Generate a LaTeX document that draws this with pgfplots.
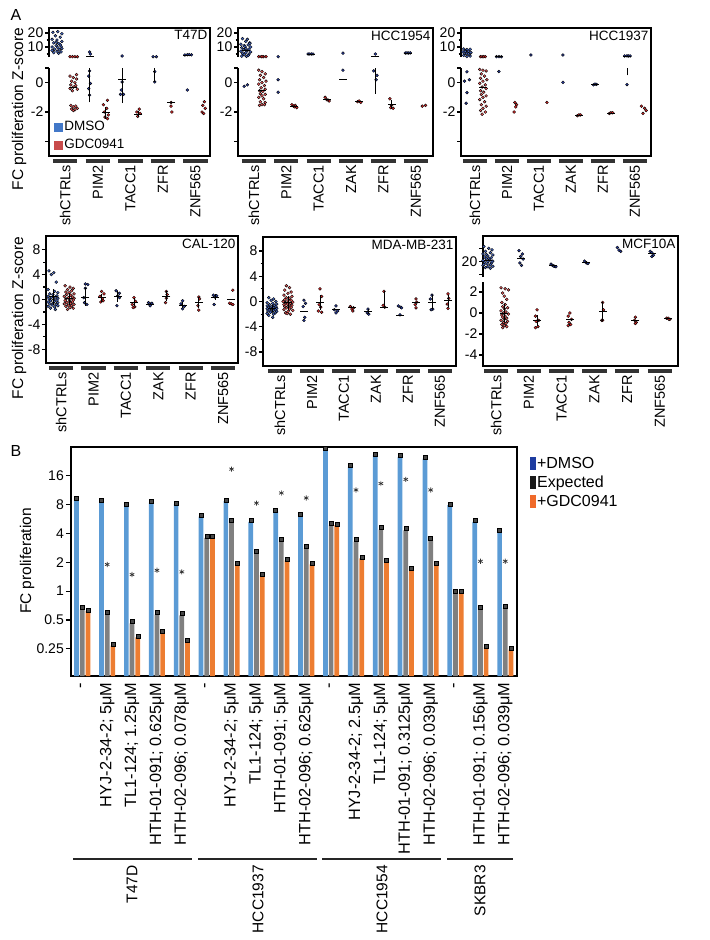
\documentclass[border=0pt]{standalone}
\usepackage{pgfplots}
\pgfplotsset{compat=1.18}
\usepackage{pgfplotstable}
\usepackage{fontspec}
\setmainfont{Liberation Sans}
\usetikzlibrary{calc}

\definecolor{dmso}{RGB}{40,60,160}
\definecolor{dmsoL}{RGB}{70,105,200}
\definecolor{gdc}{RGB}{220,40,40}
\definecolor{gdcL}{RGB}{240,90,90}
\definecolor{legblue}{RGB}{66,120,200}
\definecolor{legred}{RGB}{200,75,75}
\definecolor{bblue}{RGB}{91,155,213}
\definecolor{bgray}{RGB}{128,128,128}
\definecolor{borange}{RGB}{237,125,49}
\definecolor{ldblue}{RGB}{30,60,160}
\definecolor{lorange}{RGB}{240,106,42}
\definecolor{capgray}{RGB}{70,70,70}

\newcommand{\fs}[1]{\fontsize{#1bp}{#1bp}\selectfont}
\newcommand{\catA}[5]{%
  \draw[line width=4bp, black!80] ($(axis cs:#1,#4)+(0bp,-5bp)$) -- ($(axis cs:#2,#4)+(0bp,-5bp)$);
  \node[rotate=90, anchor=east, inner sep=0pt, font=\fs{14.5}] at ($(axis cs:#3,#4)+(0bp,-9bp)$) {#5};}

\tikzset{frame/.style={line width=1.6bp, line cap=rect}, ttl/.style={anchor=north east, inner sep=2.5bp, font=\fs{13.5}}}

\pgfplotsset{
  /pgf/number format/assume math mode=true,
  pt/.style={only marks, mark=*, mark size=1.45bp, mark options={draw=none, fill=#1}, forget plot},
  mbar/.style={only marks, mark=-, mark size=4bp, mark options={line width=0.9bp, draw=black}, forget plot,
     error bars/y dir=both, error bars/y explicit, error bars/error bar style={line width=0.8bp, black}, error bars/error mark=none},
  vl/.style={black, line width=0.8bp, forget plot},
  cap/.style={only marks, mark=square*, mark size=2bp, mark options={draw=none, fill=capgray}, forget plot},
  aup/.style={scale only axis, anchor=north west, axis x line=none, axis y line=left,
     axis line style={-, line width=1.6bp}, tick align=outside, major tick length=4bp, minor tick length=2.5bp,
     tick style={line width=1.2bp, black}, yticklabel style={font=\fs{14}, inner sep=1.5bp}, clip mode=individual},
  abox/.style={scale only axis, anchor=north west, xtick=\empty, ytick pos=left, tick align=outside,
     major tick length=4bp, minor tick length=2.5bp, tick style={line width=1.2bp, black},
     axis line style={line width=1.6bp}, yticklabel style={font=\fs{14}, inner sep=1.5bp}, clip mode=individual,
     ymin=-10.2, ymax=10.2, ytick={-8,-4,0,4,8}, minor ytick={-6,-2,2,6}},
}

\pgfplotstableread{
idx dmso exp gdc
0 9.0 0.64 0.62
1 8.6 0.58 0.27
2 7.9 0.46 0.33
3 8.4 0.57 0.37
4 8.1 0.56 0.30
5 6.0 3.6 3.6
6 8.7 5.3 1.9
7 5.3 2.5 1.47
8 6.8 3.3 2.1
9 6.1 2.8 1.9
10 30 4.9 4.9
11 19.8 3.3 2.2
12 26.3 4.4 2.04
13 25.2 4.3 1.68
14 24.2 3.4 1.89
15 7.9 0.96 0.96
16 5.3 0.65 0.26
17 4.2 0.67 0.245
}\barsB

\begin{document}
\begin{tikzpicture}
\useasboundingbox (0,0) rectangle (710bp,-940bp);
\node[font=\fs{16}] at (16bp,-15bp) {A};
\node[font=\fs{16}] at (16bp,-451bp) {B};
\node[rotate=90,font=\fs{15.5}] at (19bp,-109bp) {FC proliferation Z-score};
\node[rotate=90,font=\fs{15.5}] at (19bp,-318bp) {FC proliferation Z-score};
\node[rotate=90,font=\fs{15.5}] at (27bp,-561bp) {FC proliferation};

% ================= T47D =================
\begin{axis}[aup, at={(49bp,-28bp)}, width=161bp, height=29bp, xmin=-0.49, xmax=9.39, ymin=2.86, ymax=23.6, ytick={10,20}, minor ytick={5,15}]
\addplot[pt=dmsoL] coordinates {(-0.25,20.5) (0.05,21) (0.3,19.5) (-0.1,18) (0.2,17) (-0.3,15.5) (0,15) (0.3,14) (-0.2,13) (0.1,12.5) (-0.05,11) (0.25,10.5) (-0.3,10) (0.05,9.5) (0.3,9) (-0.15,8.5) (0.15,8) (-0.3,7.5) (0,7) (0.25,6.5) (-0.2,6) (0.1,5.5) (-0.05,13.5) (0.2,11.5)};
\addplot[pt=dmso] coordinates {(2,6.4) (2.05,5.0) (4,3.6) (5.9,3.1) (6.1,3.1) (7.85,4.3) (8.0,4.5) (8.12,4.6) (8.25,4.4)};
\addplot[pt=gdc] coordinates {(0.8,3.1) (0.95,3.1) (1.1,3.1) (1.25,3.1)};
\addplot[mbar] coordinates {(2,3.0) +- (0,0) (8,4.3) +- (0,0)};
\draw[frame] (rel axis cs:0,1) -- (rel axis cs:1,1) -- (rel axis cs:1,-0.38);
\node[ttl] at (rel axis cs:1,1) {T47D};
\end{axis}
\begin{axis}[aup, at={(49bp,-68bp)}, width=161bp, height=88bp, xmin=-0.49, xmax=9.39, ymin=-5, ymax=1, ytick={-4,-2,0,1}, yticklabels={,-2,0,},
  legend style={at={(0.03,0.04)}, anchor=south west, draw=none, fill=none, inner sep=0pt, font=\fs{13.5}, row sep=3bp}, legend cell align=left]
\addlegendimage{legend image code/.code={\fill[legblue] (0bp,-4bp) rectangle (8bp,4bp);}}
\addlegendentry{DMSO}
\addlegendimage{legend image code/.code={\fill[legred] (0bp,-4bp) rectangle (8bp,4bp);}}
\addlegendentry{GDC0941}
\addplot[pt=gdcL] coordinates {(0.8,0.45) (1.0,0.35) (1.2,0.25) (0.9,0.1) (1.1,0.0) (0.85,-0.15) (1.15,-0.2) (1.0,-0.3) (0.8,-0.4) (1.25,-0.45) (0.95,-0.55) (1.2,0.55) (0.85,-1.55) (1.0,-1.65) (1.15,-1.6) (0.9,-1.8) (1.1,-1.85) (1.0,-1.9) (1.25,-1.75)};
\addplot[pt=gdc] coordinates {(3.1,-1.2) (2.85,-1.5) (3.05,-1.75) (2.9,-2.0) (3.15,-2.2) (2.95,-2.35) (3.1,-2.45) (5.05,-1.8) (4.9,-2.0) (5.1,-2.1) (4.95,-2.3) (7,-1.35) (7.0,-1.6) (7.05,-2.0) (9.05,-1.3) (8.95,-1.55) (9.1,-1.75) (8.9,-2.0) (9.0,-2.1)};
\addplot[pt=dmso] coordinates {(2,0.8) (1.95,0.45) (2.05,-0.05) (1.95,-0.4) (2.0,-0.85) (4,0.05) (3.95,-0.5) (3.9,-0.8) (4.08,-0.8) (6,0.75) (6,0.05) (8,-0.5)};
\addplot[vl] coordinates {(2,-1.35) (2,1)};
\addplot[vl] coordinates {(4,-1.4) (4,1)};
\addplot[vl] coordinates {(6,0.05) (6,1)};
\addplot[mbar] coordinates {(1,-0.36) +- (0,0) (3,-2.05) +- (0,0.4) (4,0.2) +- (0,0) (5,-2.15) +- (0,0.2) (7,-1.35) +- (0,0)};
\draw[frame] (rel axis cs:0,0) -- (rel axis cs:1,0) -- (rel axis cs:1,1);
\catA{-0.25}{1.25}{0.5}{-5}{shCTRLs}
\catA{1.75}{3.25}{2.5}{-5}{PIM2}
\catA{3.75}{5.25}{4.5}{-5}{TACC1}
\catA{5.75}{7.25}{6.5}{-5}{ZFR}
\catA{7.75}{9.25}{8.5}{-5}{ZNF565}
\end{axis}

% ================= HCC1954 =================
\begin{axis}[aup, at={(238bp,-28bp)}, width=195bp, height=29bp, xmin=-0.48, xmax=11.56, ymin=2.86, ymax=23.6, ytick={10,20}, minor ytick={5,15}]
\addplot[pt=dmsoL] coordinates {(-0.2,16) (0.1,15.5) (0,14) (0.25,13) (-0.3,12) (0.15,11.5) (-0.1,11) (0.3,10) (-0.25,9.5) (0,9) (0.2,8.5) (-0.15,8) (0.1,7.5) (-0.3,7) (0.3,6.5) (0,6) (-0.2,5.5) (0.2,5) (-0.1,4.5) (0.15,4) (-0.25,3.5) (0.05,3.3) (0.25,12.5) (-0.05,10.5)};
\addplot[pt=gdc] coordinates {(0.8,3.1) (0.95,3.1) (1.1,3.1) (1.25,3.1) (1.0,3.1)};
\addplot[pt=dmso] coordinates {(2,3.1) (3.85,5) (3.95,5) (4.05,5) (4.15,5) (6,5.6) (8.0,5.0) (9.85,5.7) (9.95,5.8) (10.05,5.7) (10.15,5.8)};
\addplot[mbar] coordinates {(0,7.4) +- (0,0) (4,5) +- (0,0) (8,3.0) +- (0,0) (10,5.7) +- (0,0)};
\draw[frame] (rel axis cs:0,1) -- (rel axis cs:1,1) -- (rel axis cs:1,-0.38);
\node[ttl] at (rel axis cs:1,1) {HCC1954};
\end{axis}
\begin{axis}[aup, at={(238bp,-68bp)}, width=195bp, height=88bp, xmin=-0.48, xmax=11.56, ymin=-5, ymax=1, ytick={-4,-2,0,1}, yticklabels={,-2,0,}]
\addplot[pt=dmso] coordinates {(-0.1,-0.25) (0.1,-0.15) (2,0.2) (2,-0.65) (6,0.85) (7.9,0.8) (8.1,0.5) (8.05,0.2)};
\addplot[pt=gdcL] coordinates {(0.8,0.85) (1.0,0.75) (1.2,0.6) (0.9,0.5) (1.1,0.35) (0.85,0.2) (1.25,0.1) (1.0,0.0) (0.8,-0.1) (1.15,-0.2) (0.95,-0.35) (1.2,-0.45) (0.85,-0.55) (1.05,-0.6) (0.9,-0.75) (1.2,-0.8) (1.0,-0.9) (0.8,-1.0) (1.1,-1.1) (0.9,-1.3) (1.2,-1.35) (1.0,-1.5) (0.85,-1.55) (1.15,-1.5)};
\addplot[pt=gdc] coordinates {(2.85,-1.5) (2.95,-1.6) (3.05,-1.55) (3.15,-1.7) (3.0,-1.65) (4.9,-1.0) (5.0,-1.15) (5.1,-1.2) (5.15,-1.25) (6.9,-1.3) (7.0,-1.25) (7.1,-1.35) (8.9,-1.1) (9.0,-1.55) (9.1,-1.75) (8.95,-1.7) (10.9,-1.6) (11.1,-1.55)};
\addplot[vl] coordinates {(8,-0.75) (8,1)};
\addplot[mbar] coordinates {(1,-0.54) +- (0,0) (3,-1.6) +- (0,0) (5,-1.15) +- (0,0) (6,0.2) +- (0,0) (7,-1.3) +- (0,0) (9,-1.5) +- (0,0.3)};
\draw[frame] (rel axis cs:0,0) -- (rel axis cs:1,0) -- (rel axis cs:1,1);
\catA{-0.25}{1.25}{0.5}{-5}{shCTRLs}
\catA{1.75}{3.25}{2.5}{-5}{PIM2}
\catA{3.75}{5.25}{4.5}{-5}{TACC1}
\catA{5.75}{7.25}{6.5}{-5}{ZAK}
\catA{7.75}{9.25}{8.5}{-5}{ZFR}
\catA{9.75}{11.25}{10.5}{-5}{ZNF565}
\end{axis}

% ================= HCC1937 =================
\begin{axis}[aup, at={(461bp,-28bp)}, width=190bp, height=29bp, xmin=-0.37, xmax=11.5, ymin=2.86, ymax=23.6, ytick={10,20}, minor ytick={5,15}]
\addplot[pt=dmsoL] coordinates {(-0.2,8.6) (0,8.2) (0.2,8.4) (-0.1,7.5) (0.1,7) (-0.25,6.5) (0.25,6) (0,5.5) (-0.15,5) (0.15,4.5) (-0.2,4) (0.2,3.5) (0,3.2) (-0.1,6.8) (0.1,5.2)};
\addplot[pt=gdc] coordinates {(0.85,3.1) (0.95,3.1) (1.05,3.1) (1.15,3.1)};
\addplot[pt=dmso] coordinates {(1.85,3.1) (2.0,3.1) (2.15,3.05) (4,4.3) (6,4.3) (9.85,3.6) (10.0,3.7) (10.1,3.6) (10.2,3.6)};
\addplot[mbar] coordinates {(2,3.1) +- (0,0) (10,3.6) +- (0,0)};
\draw[frame] (rel axis cs:0,1) -- (rel axis cs:1,1) -- (rel axis cs:1,-0.38);
\node[ttl] at (rel axis cs:1,1) {HCC1937};
\end{axis}
\begin{axis}[aup, at={(461bp,-68bp)}, width=190bp, height=88bp, xmin=-0.37, xmax=11.5, ymin=-5, ymax=1, ytick={-4,-2,0,1}, yticklabels={,-2,0,}]
\addplot[pt=dmso] coordinates {(0,0.74) (0.15,0.2) (-0.15,0.1) (0,-0.68) (-0.05,-1.4) (2,0.76) (6,0.02) (7.9,-0.15) (8.0,-0.1) (8.1,-0.12) (10,-0.13)};
\addplot[pt=gdcL] coordinates {(0.8,0.9) (1.0,0.85) (1.2,0.8) (0.9,0.6) (1.1,0.45) (0.85,0.3) (1.25,0.2) (1.0,0.1) (0.8,-0.05) (1.15,-0.15) (0.95,-0.3) (1.2,-0.4) (0.85,-0.55) (1.05,-0.65) (0.9,-0.8) (1.2,-0.9) (1.0,-1.0) (0.8,-1.15) (1.1,-1.3) (0.9,-1.5) (1.2,-1.6) (1.0,-1.75) (0.85,-1.9) (1.15,-2.0) (0.95,-2.15)};
\addplot[pt=gdc] coordinates {(3.0,-1.35) (3.1,-1.5) (3.05,-1.65) (2.95,-2.0) (5,-1.35) (6.9,-2.25) (7.0,-2.2) (7.1,-2.2) (8.9,-2.1) (9.0,-2.05) (9.1,-2.05) (10.9,-1.6) (11.1,-1.75) (11.2,-1.9) (11.0,-2.1)};
\addplot[vl] coordinates {(10,0.5) (10,1)};
\addplot[mbar] coordinates {(1,-0.35) +- (0,0) (7,-2.22) +- (0,0) (8,-0.13) +- (0,0) (9,-2.07) +- (0,0)};
\draw[frame] (rel axis cs:0,0) -- (rel axis cs:1,0) -- (rel axis cs:1,1);
\catA{-0.25}{1.25}{0.5}{-5}{shCTRLs}
\catA{1.75}{3.25}{2.5}{-5}{PIM2}
\catA{3.75}{5.25}{4.5}{-5}{TACC1}
\catA{5.75}{7.25}{6.5}{-5}{ZAK}
\catA{7.75}{9.25}{8.5}{-5}{ZFR}
\catA{9.75}{11.25}{10.5}{-5}{ZNF565}
\end{axis}

% ================= CAL-120 =================
\begin{axis}[abox, at={(46bp,-236bp)}, width=192bp, height=127bp, xmin=-0.43, xmax=11.42]
\addplot[pt=dmsoL] coordinates {(-0.25,4.6) (0.05,4.3) (-0.1,4.0) (0.2,2.8) (-0.3,1.6) (0.1,1.3) (0.3,1.1) (-0.2,0.9) (0,0.8) (0.25,0.6) (-0.3,0.5) (0.15,0.4) (-0.1,0.3) (0.3,0.2) (-0.25,0.1) (0.05,0.0) (0.25,-0.1) (-0.15,-0.2) (0.1,-0.3) (-0.3,-0.4) (0.3,-0.5) (0,-0.6) (-0.2,-0.7) (0.2,-0.8) (-0.05,-0.9) (0.3,-1.0) (-0.3,-1.1) (0.1,-1.2) (-0.15,-1.4) (0.15,-1.6)};
\addplot[pt=gdcL] coordinates {(0.75,2.2) (1.05,2.0) (1.25,1.8) (0.9,1.6) (1.15,1.4) (0.8,1.2) (1.0,1.1) (1.3,0.9) (0.85,0.8) (1.1,0.7) (0.7,0.5) (1.2,0.4) (0.95,0.3) (1.3,0.2) (0.8,0.1) (1.05,0.0) (1.25,-0.1) (0.75,-0.2) (1.0,-0.3) (1.2,-0.4) (0.85,-0.5) (1.1,-0.6) (0.7,-0.7) (1.3,-0.8) (0.95,-0.9) (1.15,-1.0) (0.8,-1.1) (1.05,-1.3) (1.25,-1.4) (0.9,-1.6)};
\addplot[pt=dmso] coordinates {(2.0,2.5) (2.15,2.4) (2.0,1.8) (1.9,0.3) (1.95,-0.5) (2.1,-0.8) (3.9,1.4) (4.1,1.0) (4.0,0.6) (4.1,0.3) (3.95,-1.0) (5.9,-0.5) (6.05,-0.7) (6.1,-0.6) (6.0,-1.0) (8.0,-0.2) (7.9,-0.7) (8.1,-1.1) (8.0,-1.5) (9.9,0.7) (10.1,0.6) (10.0,0.4) (9.95,-0.8)};
\addplot[pt=gdc] coordinates {(3.0,1.3) (3.15,0.9) (2.9,0.5) (3.05,0.1) (3.1,-0.2) (2.95,-0.4) (5.0,0.3) (5.1,-0.3) (4.9,-0.8) (5.05,-1.2) (4.95,-1.3) (7.0,1.3) (7.05,0.8) (7.0,0.2) (6.95,-0.5) (9.0,0.4) (9.05,0.1) (8.95,-1.0) (9.0,-1.7) (11.1,1.5) (10.9,-0.6) (11.0,-0.7) (11.1,-0.8)};
\addplot[mbar] coordinates {(0,0.45) +- (0,1.3) (1,0.1) +- (0,1.0) (2,0.4) +- (0,1.4) (3,0.25) +- (0,0.6) (4,0.5) +- (0,0.9) (5,-0.4) +- (0,0.6) (6,-0.75) +- (0,0.2) (7,0.5) +- (0,0.8) (8,-0.9) +- (0,0.5) (9,-0.5) +- (0,0.9) (10,0.4) +- (0,0.5) (11,0.0) +- (0,0)};
\node[ttl] at (rel axis cs:1,1) {CAL-120};
\catA{-0.25}{1.25}{0.5}{-10.2}{shCTRLs}
\catA{1.75}{3.25}{2.5}{-10.2}{PIM2}
\catA{3.75}{5.25}{4.5}{-10.2}{TACC1}
\catA{5.75}{7.25}{6.5}{-10.2}{ZAK}
\catA{7.75}{9.25}{8.5}{-10.2}{ZFR}
\catA{9.75}{11.25}{10.5}{-10.2}{ZNF565}
\end{axis}

% ================= MDA-MB-231 =================
\begin{axis}[abox, at={(263bp,-237bp)}, width=193bp, height=129bp, xmin=-0.56, xmax=11.5]
\addplot[pt=dmsoL] coordinates {(-0.2,0.6) (0.1,0.4) (-0.05,0.2) (0.25,0.0) (-0.3,-0.2) (0.05,-0.3) (0.3,-0.4) (-0.15,-0.5) (0.15,-0.6) (-0.3,-0.7) (0,-0.8) (0.25,-0.85) (-0.2,-0.9) (0.1,-1.0) (-0.1,-1.05) (0.3,-1.1) (-0.3,-1.15) (0.05,-1.2) (0.2,-1.3) (-0.15,-1.35) (0.1,-1.4) (-0.25,-1.5) (0.3,-1.55) (0,-1.6) (-0.1,-1.7) (0.2,-1.8) (-0.3,-1.9) (0.1,-2.0) (-0.2,-2.2) (0.05,-2.5)};
\addplot[pt=gdcL] coordinates {(0.9,2.5) (1.1,2.2) (0.8,1.8) (1.2,1.5) (1.0,1.3) (0.75,1.0) (1.25,0.8) (0.9,0.6) (1.1,0.5) (0.8,0.3) (1.2,0.2) (1.0,0.1) (0.7,0.0) (1.3,-0.1) (0.85,-0.2) (1.15,-0.3) (0.95,-0.4) (0.75,-0.5) (1.25,-0.6) (1.05,-0.7) (0.8,-0.8) (1.2,-0.9) (0.9,-1.0) (1.1,-1.2) (0.75,-1.3) (1.3,-1.4) (1.0,-1.6) (0.85,-1.8) (1.15,-2.0) (0.95,-1.9)};
\addplot[pt=dmso] coordinates {(2.0,0.2) (2.1,-0.3) (1.95,-0.8) (2.05,-2.5) (2.0,-3.0) (4.0,-0.7) (3.9,-1.3) (4.1,-1.5) (4.0,-1.8) (6.0,-1.2) (5.95,-1.8) (6.05,-2.0) (7.9,-0.7) (8.05,-0.9) (8.1,-1.0) (8.0,-2.1) (10.0,1.0) (9.9,0.4) (10.05,-1.2) (9.95,-1.3)};
\addplot[pt=gdc] coordinates {(3.0,2.0) (3.1,0.8) (2.95,-0.5) (3.05,-0.9) (2.9,-1.5) (3.1,-1.7) (4.9,-0.8) (5.1,-1.0) (5.0,-1.2) (5.05,-1.5) (7.0,1.6) (6.95,-0.6) (7.05,-0.9) (9.0,0.4) (9.05,-0.1) (8.95,-0.5) (9.0,-1.0) (11.0,1.2) (11.05,0.5) (10.95,-0.4) (11.0,-1.1)};
\addplot[vl] coordinates {(7,-1.0) (7,1.6)};
\addplot[mbar] coordinates {(0,-1.1) +- (0,0.6) (1,-0.2) +- (0,1.1) (2,-1.5) +- (0,0) (3,-0.2) +- (0,1.2) (4,-1.3) +- (0,0) (5,-1.0) +- (0,0) (6,-1.6) +- (0,0.4) (7,-1.0) +- (0,0) (8,-2.2) +- (0,0) (9,-0.2) +- (0,0) (10,-0.1) +- (0,1.1) (11,0.1) +- (0,0.9)};
\node[ttl] at (rel axis cs:1,1) {MDA-MB-231};
\catA{-0.25}{1.25}{0.5}{-10.2}{shCTRLs}
\catA{1.75}{3.25}{2.5}{-10.2}{PIM2}
\catA{3.75}{5.25}{4.5}{-10.2}{TACC1}
\catA{5.75}{7.25}{6.5}{-10.2}{ZAK}
\catA{7.75}{9.25}{8.5}{-10.2}{ZFR}
\catA{9.75}{11.25}{10.5}{-10.2}{ZNF565}
\end{axis}

% ================= MCF10A =================
\begin{axis}[aup, at={(483bp,-236bp)}, width=195bp, height=41bp, xmin=-0.3, xmax=11.6, ymin=14, ymax=30, ytick={15,20,25}, yticklabels={,20,}]
\addplot[pt=dmsoL] coordinates {(-0.25,25.9) (0.05,25.2) (0.25,24.6) (-0.15,24.0) (0.15,23.5) (-0.3,23.0) (0.3,22.6) (0,22.2) (-0.2,21.8) (0.2,21.5) (-0.1,21.1) (0.1,20.8) (-0.3,20.5) (0.3,20.2) (0,20.0) (-0.2,19.7) (0.2,19.4) (-0.05,19.1) (0.15,18.8) (-0.3,18.5) (0.3,18.2) (0,18.0) (-0.15,17.7) (0.15,17.4) (0.05,21.3) (-0.1,22.8) (0.25,19.9) (-0.25,18.9)};
\addplot[pt=dmso] coordinates {(1.9,24.3) (2.1,23) (2.0,22) (2.15,21) (1.95,19.5) (2.05,18.5) (3.85,19) (3.95,18.5) (4.05,18.2) (4.15,18) (4.0,18.3) (5.9,20.2) (6.0,19.5) (6.1,19.3) (7.9,25.5) (8.0,24.5) (8.1,24) (9.9,24) (10.0,23.5) (10.1,22.5) (10.0,22)};
\addplot[mbar] coordinates {(0,20.5) +- (0,0) (2,21.3) +- (0,0) (4,18.4) +- (0,0) (6,19.8) +- (0,0.5) (10,23) +- (0,0)};
\draw[frame] (rel axis cs:0,1) -- (rel axis cs:1,1) -- (rel axis cs:1,-0.122);
\node[ttl] at (rel axis cs:1,1) {MCF10A};
\end{axis}
\begin{axis}[aup, at={(483bp,-282bp)}, width=195bp, height=84bp, xmin=-0.3, xmax=11.6, ymin=-5.05, ymax=2.95, ytick={-4,-2,0,2}]
\addplot[pt=gdcL] coordinates {(0.8,2.4) (1.05,2.3) (1.25,2.2) (0.9,1.9) (1.0,1.6) (1.15,1.3) (0.85,1.0) (1.05,0.8) (0.9,0.6) (1.2,0.5) (1.0,0.4) (0.8,0.2) (1.1,0.1) (0.95,0.0) (1.25,-0.1) (0.85,-0.2) (1.05,-0.3) (0.9,-0.4) (1.15,-0.5) (1.0,-0.6) (0.8,-0.7) (1.2,-0.8) (0.95,-0.9) (1.1,-1.0) (0.85,-1.1) (1.0,-1.2) (1.15,-1.3) (0.9,-1.4)};
\addplot[pt=gdc] coordinates {(3.0,0.3) (2.9,-0.3) (3.1,-0.7) (2.95,-0.8) (3.05,-1.3) (2.9,-1.4) (5.0,0.0) (4.9,-0.3) (5.1,-0.6) (4.95,-0.9) (5.05,-1.1) (4.9,-1.2) (7.0,1.0) (7.05,0.3) (6.95,-0.7) (7.0,-0.7) (9.0,-0.4) (8.95,-0.7) (9.05,-0.9) (9.0,-1.0) (10.9,-0.5) (11.0,-0.5) (11.1,-0.6) (11.05,-0.6)};
\addplot[mbar] coordinates {(1,0.0) +- (0,0.9) (3,-0.7) +- (0,0.5) (5,-0.6) +- (0,0) (7,0.1) +- (0,0.9) (9,-0.7) +- (0,0) (11,-0.55) +- (0,0)};
\draw[frame] (rel axis cs:0,0) -- (rel axis cs:1,0) -- (rel axis cs:1,1);
\catA{-0.25}{1.25}{0.5}{-5.05}{shCTRLs}
\catA{1.75}{3.25}{2.5}{-5.05}{PIM2}
\catA{3.75}{5.25}{4.5}{-5.05}{TACC1}
\catA{5.75}{7.25}{6.5}{-5.05}{ZAK}
\catA{7.75}{9.25}{8.5}{-5.05}{ZFR}
\catA{9.75}{11.25}{10.5}{-5.05}{ZNF565}
\end{axis}

% ================= Panel B =================
\begin{axis}[at={(71bp,-447bp)}, anchor=north west, scale only axis, width=446bp, height=229bp,
  ymode=log, log basis y=2, log origin=infty, ymin=0.13, ymax=32, xmin=-0.454, xmax=17.47,
  ytick={0.25,0.5,1,2,4,8,16}, yticklabels={0.25,0.5,1,2,4,8,16}, yminorticks=false,
  ytick pos=left, tick align=outside, major tick length=5bp, tick style={line width=1.2bp, black},
  yticklabel style={font=\fs{14}, inner sep=2bp},
  xtick={0,...,17},
  xticklabels={-, HYJ-2-34-2; 5μM, TL1-124; 1.25μM, HTH-01-091; 0.625μM, HTH-02-096; 0.078μM, -, HYJ-2-34-2; 5μM, TL1-124; 5μM, HTH-01-091; 5μM, HTH-02-096; 0.625μM, -, HYJ-2-34-2; 2.5μM, TL1-124; 5μM, HTH-01-091; 0.3125μM, HTH-02-096; 0.039μM, -, HTH-01-091; 0.156μM, HTH-02-096; 0.039μM},
  xticklabel style={rotate=90, anchor=east, font=\fs{16.3}, inner sep=1.5bp},
  x tick style={draw=none},
  axis line style={line width=2.5bp}, clip mode=individual,
  legend style={at={(1.028,0.965)}, anchor=north west, draw=none, fill=none, inner sep=0pt, font=\fs{16}, row sep=2bp},
  legend cell align=left]
\addlegendimage{legend image code/.code={\fill[ldblue] (0bp,-6bp) rectangle (5bp,6bp);}}
\addlegendentry{+DMSO}
\addlegendimage{legend image code/.code={\fill[black!90] (0bp,-6bp) rectangle (5bp,6bp);}}
\addlegendentry{Expected}
\addlegendimage{legend image code/.code={\fill[lorange] (0bp,-6bp) rectangle (5bp,6bp);}}
\addlegendentry{+GDC0941}
\addplot[ybar, bar width=4.7bp, bar shift=-5.7bp, fill=bblue, draw=none, forget plot] table[x=idx, y=dmso] {\barsB};
\addplot[ybar, bar width=4.7bp, bar shift=0bp, fill=bgray, draw=none, forget plot] table[x=idx, y=exp] {\barsB};
\addplot[ybar, bar width=4.7bp, bar shift=5.7bp, fill=borange, draw=none, forget plot] table[x=idx, y=gdc] {\barsB};
\addplot[cap] table[x expr=\thisrow{idx}-0.229, y expr=\thisrow{dmso}*1.035] {\barsB};
\addplot[cap] table[x expr=\thisrow{idx}, y expr=\thisrow{exp}*1.05] {\barsB};
\addplot[cap] table[x expr=\thisrow{idx}+0.229, y expr=\thisrow{gdc}*1.03] {\barsB};
\addplot[only marks, mark=asterisk, mark size=2.6bp, mark options={line width=0.7bp, black!80}, forget plot] coordinates {(1,1.9) (2,1.49) (3,1.65) (4,1.59) (6,18.8) (7,8.3) (8,10.6) (9,9.4) (11,11.4) (12,13.3) (13,14.7) (14,11.4) (16,2.05) (17,2.05)};
\end{axis}

% group separators for panel B
\draw[line width=2.5bp, black!85] (73bp,-859bp) -- (192bp,-859bp);
\draw[line width=2.5bp, black!85] (198bp,-859bp) -- (317bp,-859bp);
\draw[line width=2.5bp, black!85] (322bp,-859bp) -- (441bp,-859bp);
\draw[line width=2.5bp, black!85] (447bp,-859bp) -- (513bp,-859bp);
\node[rotate=90, anchor=east, inner sep=0pt, font=\fs{15.5}] at (132bp,-865bp) {T47D};
\node[rotate=90, anchor=east, inner sep=0pt, font=\fs{15.5}] at (258bp,-865bp) {HCC1937};
\node[rotate=90, anchor=east, inner sep=0pt, font=\fs{15.5}] at (382bp,-865bp) {HCC1954};
\node[rotate=90, anchor=east, inner sep=0pt, font=\fs{15.5}] at (480bp,-865bp) {SKBR3};
\end{tikzpicture}
\end{document}
